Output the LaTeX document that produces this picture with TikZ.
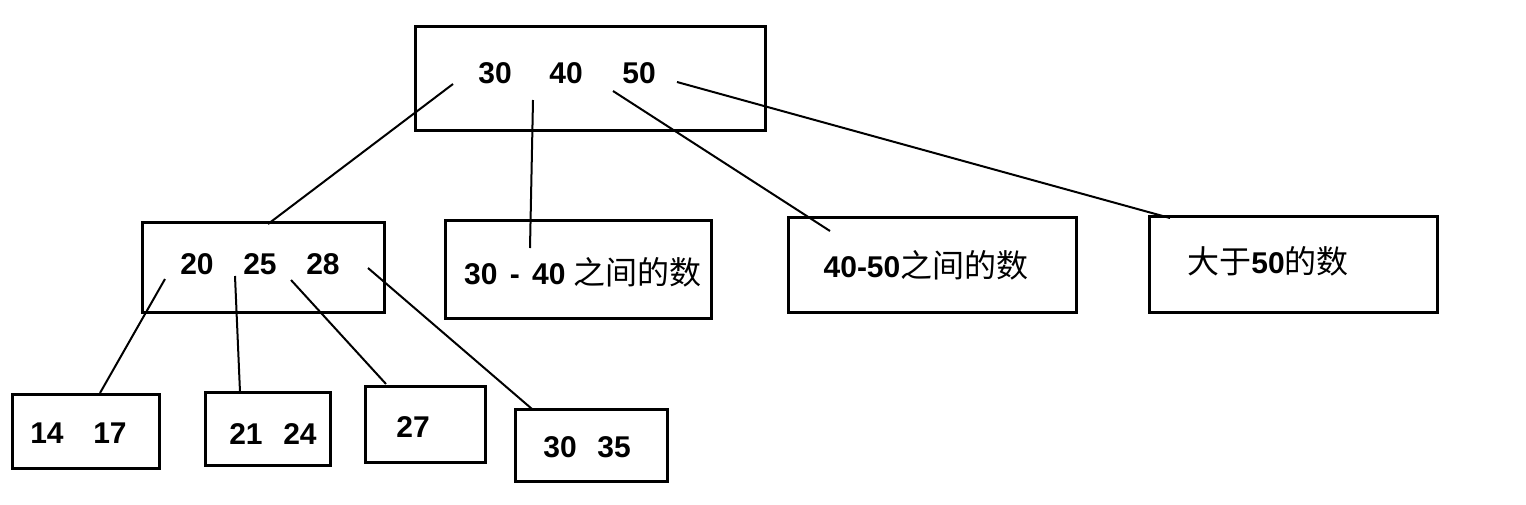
\documentclass[tikz,border=0pt]{standalone}
\usepackage{fontspec}
\setmainfont{Liberation Sans}
\newfontfamily\cjkfont{Noto Sans CJK SC}
\newcommand{\zh}[1]{{\cjkfont\mdseries\fontsize{32}{33}\selectfont #1}}
\begin{document}
\begin{tikzpicture}[x=1pt,y=-1pt,
  box/.style={draw,line width=3pt,inner sep=0pt,outer sep=0pt},
  link/.style={line width=2pt},
  num/.style={inner sep=0pt,anchor=base,font=\fontsize{30}{32}\selectfont\bfseries}]
\useasboundingbox (0,0) rectangle (1526,504);
% boxes
\node[box,minimum width=350,minimum height=104] (top) at (590,78) {};
\node[box,minimum width=242,minimum height=90] (b20) at (263,267) {};
\node[box,minimum width=266,minimum height=98] (b3040) at (578,269) {};
\node[box,minimum width=288,minimum height=95] (b4050) at (932,264.5) {};
\node[box,minimum width=288,minimum height=96] (bgt50) at (1293,264) {};
\node[box,minimum width=147,minimum height=74] (b1417) at (85.5,431) {};
\node[box,minimum width=125,minimum height=73] (b2124) at (267.5,428.5) {};
\node[box,minimum width=120,minimum height=76] (b27) at (425,424) {};
\node[box,minimum width=152,minimum height=72] (b3035) at (591,445) {};
% texts
\node[num] (t30) at (495,83) {30};
\node[num] (t40) at (566,83) {40};
\node[num] (t50) at (639,83) {50};
\node[num] (t20) at (197,274) {20};
\node[num] (t25) at (260,274) {25};
\node[num] (t28) at (323,274) {28};
\node[num] (tr1) at (583,284) {30\hspace{4pt} - \hspace{4pt}40 \zh{之间的数}};
\node[num] (tr2) at (926,277) {40-50\zh{之间的数}};
\node[num] (tr3) at (1268,273) {\zh{大于}50\zh{的数}};
\node[num] (t14) at (47,443) {14};
\node[num] (t17) at (110,443) {17};
\node[num] (t21) at (246,444) {21};
\node[num] (t24) at (300,444) {24};
\node[num] (t27) at (413,437) {27};
\node[num] (t30b) at (560,457) {30};
\node[num] (t35) at (614,457) {35};
% connector ends
\coordinate (a1) at (453,84);  \coordinate (a2) at (268,224);
\coordinate (b1) at (533,100); \coordinate (b2) at (530,248);
\coordinate (c1) at (613,91);  \coordinate (c2) at (830,231);
\coordinate (d1) at (677,82);  \coordinate (d2) at (1170,218);
\coordinate (e1) at (165,279); \coordinate (e2) at (100,393);
\coordinate (f1) at (235,276); \coordinate (f2) at (240,392);
\coordinate (g1) at (291,280); \coordinate (g2) at (386,384);
\coordinate (h1) at (368,268); \coordinate (h2) at (532,409);
\draw[link] (a1) -- (a2);
\draw[link] (b1) -- (b2);
\draw[link] (c1) -- (c2);
\draw[link] (d1) -- (d2);
\draw[link] (e1) -- (e2);
\draw[link] (f1) -- (f2);
\draw[link] (g1) -- (g2);
\draw[link] (h1) -- (h2);
\end{tikzpicture}
\end{document}
